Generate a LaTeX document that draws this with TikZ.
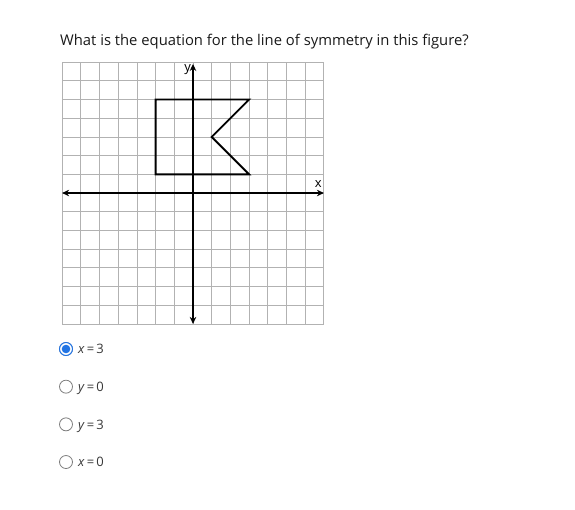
\documentclass[tikz,border=0pt]{standalone}
\usepackage{fontspec}
\setmainfont{Open Sans}
\usetikzlibrary{arrows.meta, positioning}
\definecolor{gridgray}{RGB}{178,178,178}
\definecolor{radioblue}{RGB}{33,116,228}
\definecolor{radiogray}{RGB}{125,125,125}
\definecolor{textgray}{RGB}{55,55,55}
\tikzset{
	axis/.style={black, line width=1.6pt, {Stealth[length=7pt,width=6.5pt]}-{Stealth[length=7pt,width=6.5pt]}},
	flag/.style={black, line width=1.9pt, line join=miter},
	radio/.style={circle, draw=radiogray, line width=0.8pt, fill=white, minimum size=13pt, inner sep=0},
	radioon/.style={radio, draw=radioblue, line width=1pt},
	answer/.style={inner sep=0, text=textgray, font=\fontsize{13}{15}\selectfont, text height=9.5pt, text depth=0pt}
}

\begin{document}
\begin{tikzpicture}[x=1pt, y=-1pt]
	\useasboundingbox (0,0) rectangle (575,509);
	\node[anchor=base west, inner sep=0, text=black!90, font=\fontsize{14.8}{17}\selectfont] (question) at (60,45) {What is the equation for the line of symmetry in this figure?};

	\begin{scope}[shift={(193,193)}, x=18.7pt, y=18.7pt]
		\draw[gridgray, line width=0.8pt, step=1] (-7,-7) grid (7,7); 
		\draw[axis] (-7,0) -- (7,0); 
		\draw[axis] (0,-7) -- (0,6.9); 
		\node[anchor=east, inner sep=1pt, font=\fontsize{13}{15}\selectfont] (ylabel) at (-0.05,6.6) {y};
		\node[inner sep=1pt, font=\fontsize{13}{15}\selectfont] (xlabel) at (6.7,0.5) {x};

		\draw[flag] (-2,5) -- (3,5) -- (1,3) -- (3,1) -- (-2,1) -- cycle; 
	\end{scope}

	\foreach \var/\val [count=\i] in {x/3, y/0, y/3, x/0}{
		\node[radio] (opt\i) at (66, 349 + 37.67*\i - 37.67) {}; 
		\node[answer, anchor=west, right=5pt of opt\i] (lab\i) {\textit{\var}\,=\,\val}; 
	}
	\node[radioon] at (opt1) {}; 
	\fill[radioblue] (opt1) circle[radius=4.3]; 
\end{tikzpicture}
\end{document}
